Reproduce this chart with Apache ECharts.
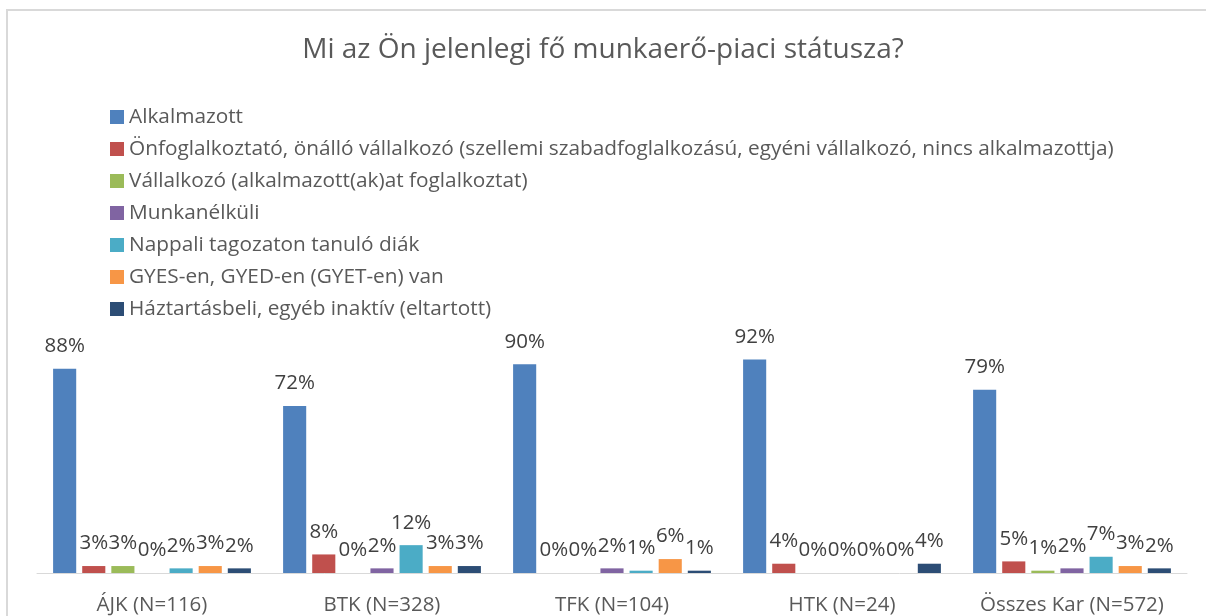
<!DOCTYPE html>
<html>
<head>
<meta charset="utf-8">
<script src="https://cdn.jsdelivr.net/npm/echarts@6/dist/echarts.min.js"></script>
<style>
  html, body { margin: 0; padding: 0; background: #fff; }
  #wrap { position: relative; width: 1206px; height: 616px; overflow: hidden; }
  #frame { position: absolute; left: 6px; top: 9px; width: 1220px; height: 640px; border: 2px solid #d9d9d9; box-sizing: border-box; }
  #chart { position: absolute; left: 0; top: 0; width: 1206px; height: 616px; }
</style>
</head>
<body>
<div id="wrap">
  <div id="frame"></div>
  <div id="chart"></div>
</div>
<script>
// Mi az Ön jelenlegi fő munkaerő-piaci státusza? - csoportosított oszlopdiagram
const categories = ['ÁJK (N=116)', 'BTK (N=328)', 'TFK (N=104)', 'HTK (N=24)', 'Összes Kar (N=572)'];
const seriesNames = [
  'Alkalmazott',
  'Önfoglalkoztató, önálló vállalkozó (szellemi szabadfoglalkozású, egyéni vállalkozó, nincs alkalmazottja)',
  'Vállalkozó (alkalmazott(ak)at foglalkoztat)',
  'Munkanélküli',
  'Nappali tagozaton tanuló diák',
  'GYES-en, GYED-en (GYET-en) van',
  'Háztartásbeli, egyéb inaktív (eltartott)'
];
const alkalmazott = [88, 72, 90, 92, 79];
const onfoglalkoztato = [3, 8, 0, 4, 5];
const vallalkozo = [3, 0, 0, 0, 1];
const munkanelkuli = [0, 2, 2, 0, 2];
const diak = [2, 12, 1, 0, 7];
const gyes = [3, 3, 6, 0, 3];
const haztartasbeli = [2, 3, 1, 4, 2];
const colors = ['#4f81bd', '#c0504d', '#9bbb59', '#8064a2', '#4bacc6', '#f79646', '#2c4d75'];

const values = [alkalmazott, onfoglalkoztato, vallalkozo, munkanelkuli, diak, gyes, haztartasbeli];
const font = '"Open Sans", "Liberation Sans", sans-serif';

const chart = echarts.init(document.getElementById('chart'));
chart.setOption({
  animation: false,
  color: colors,
  textStyle: { fontFamily: font },
  title: {
    text: 'Mi az Ön jelenlegi fő munkaerő-piaci státusza?',
    left: 'center',
    top: 31,
    textStyle: { color: '#595959', fontSize: 28, fontWeight: 'normal', fontFamily: font }
  },
  legend: {
    orient: 'vertical',
    left: 105,
    top: 101,
    icon: 'rect',
    itemWidth: 14,
    itemHeight: 14,
    itemGap: 10,
    selectedMode: false,
    textStyle: { color: '#595959', fontSize: 20.8, lineHeight: 22, fontFamily: font },
    data: seriesNames
  },
  grid: { left: 37, right: 19, top: 341, bottom: 42 },
  xAxis: {
    type: 'category',
    data: categories,
    axisLine: { lineStyle: { color: '#d9d9d9', width: 1 } },
    axisTick: { show: false },
    axisLabel: { interval: 0, color: '#595959', fontSize: 20.5, margin: 22, fontFamily: font }
  },
  yAxis: {
    type: 'value',
    min: 0,
    max: 100,
    show: false
  },
  series: seriesNames.map((name, i) => ({
    name: name,
    type: 'bar',
    data: values[i],
    barGap: '26%',
    barCategoryGap: '14%',
    itemStyle: { color: colors[i] },
    label: {
      show: true,
      position: 'top',
      distance: 12,
      formatter: '{c}%',
      color: '#404040',
      fontSize: 20.5,
      fontFamily: font
    }
  }))
});
</script>
</body>
</html>
